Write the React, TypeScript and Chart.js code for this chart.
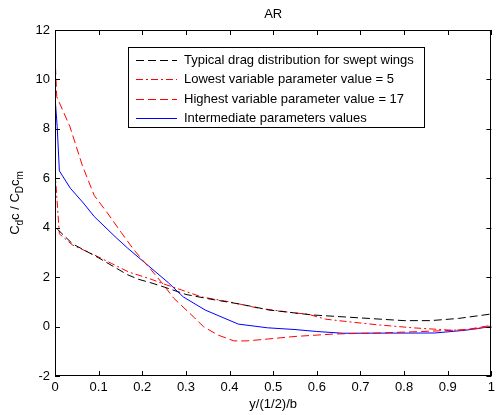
import React, { useEffect, useRef } from "react";
import { Chart, registerables } from "chart.js";

Chart.register(...registerables);

const titleText = "AR";
const xAxisTitle = "y/(1/2)/b";
const legendLabels = [
  "Typical drag distribution for swept wings",
  "Lowest variable parameter value = 5",
  "Highest variable parameter value = 17",
  "Intermediate parameters values",
];

const xTypical = [0.005, 0.04, 0.1, 0.166, 0.19, 0.22, 0.25, 0.3, 0.35, 0.41, 0.45, 0.49, 0.55, 0.59, 0.7, 0.8, 0.86, 0.925, 1.0];
const yTypical = [3.95, 3.35, 2.78, 2.1, 1.92, 1.77, 1.6, 1.3, 1.13, 0.95, 0.82, 0.67, 0.55, 0.47, 0.35, 0.24, 0.24, 0.33, 0.51];

const xLowest = [0, 0.01, 0.04, 0.09, 0.13, 0.17, 0.215, 0.25, 0.29, 0.336, 0.4, 0.465, 0.55, 0.58, 0.62, 0.675, 0.74, 0.82, 0.91, 0.95, 1.0];
const yLowest = [6.3, 3.75, 3.3, 2.9, 2.55, 2.2, 1.95, 1.72, 1.48, 1.2, 1.0, 0.75, 0.55, 0.5, 0.3, 0.19, 0.07, -0.05, -0.15, -0.12, 0.0];

const xHighest = [0, 0.004, 0.034, 0.063, 0.09, 0.12, 0.152, 0.181, 0.204, 0.22, 0.245, 0.272, 0.32, 0.34, 0.373, 0.41, 0.44, 0.49, 0.55, 0.64, 0.74, 0.84, 0.94, 1.0];
const yHighest = [11.0, 9.3, 8.1, 6.5, 5.3, 4.6, 3.8, 3.1, 2.62, 2.3, 1.77, 1.15, 0.35, 0.0, -0.34, -0.58, -0.58, -0.5, -0.4, -0.3, -0.26, -0.2, -0.13, 0.05];

const xInter = [0, 0.005, 0.01, 0.035, 0.065, 0.09, 0.14, 0.166, 0.22, 0.26, 0.294, 0.344, 0.42, 0.487, 0.55, 0.6, 0.66, 0.87, 0.94, 1.0];
const yInter = [9.3, 8.1, 6.3, 5.6, 5.0, 4.45, 3.6, 3.18, 2.37, 1.77, 1.2, 0.67, 0.1, -0.05, -0.12, -0.2, -0.27, -0.26, -0.15, 0.0];

const xMin = 0;
const xMax = 1;
const xStep = 0.1;
const yMin = -2;
const yMax = 12;
const yStep = 2;

const FONT = "'Liberation Sans', Arial, Helvetica, sans-serif";

function pts(xs: number[], ys: number[]) {
  return xs.map((x, i) => ({ x, y: ys[i] }));
}

const decorPlugin = {
  id: "decor",
  afterDatasetsDraw(chart: any) {
    const ctx = chart.ctx as CanvasRenderingContext2D;
    const { left, right, top, bottom } = chart.chartArea;
    const xs = chart.scales.x;
    const ys = chart.scales.y;
    ctx.save();
    // box
    ctx.strokeStyle = "#000";
    ctx.lineWidth = 1;
    ctx.setLineDash([]);
    ctx.strokeRect(Math.round(left) + 0.5, Math.round(top) + 0.5, Math.round(right - left) - 1, Math.round(bottom - top) - 1);
    const tl = 5;
    ctx.beginPath();
    xs.ticks.forEach((t: any) => {
      const p = Math.round(xs.getPixelForValue(t.value)) + 0.5;
      ctx.moveTo(p, bottom);
      ctx.lineTo(p, bottom - tl);
      ctx.moveTo(p, top);
      ctx.lineTo(p, top + tl);
    });
    ys.ticks.forEach((t: any) => {
      const p = Math.round(ys.getPixelForValue(t.value)) + 0.5;
      ctx.moveTo(left, p);
      ctx.lineTo(left + tl, p);
      ctx.moveTo(right, p);
      ctx.lineTo(right - tl, p);
    });
    ctx.stroke();

    // legend
    const lx = left + 73;
    const ly = top + 17;
    const lw = 296;
    const lh = 80;
    ctx.fillStyle = "#fff";
    ctx.fillRect(lx, ly, lw, lh);
    ctx.strokeStyle = "#000";
    ctx.strokeRect(Math.round(lx) + 0.5, Math.round(ly) + 0.5, lw, lh);
    ctx.font = `13px ${FONT}`;
    ctx.textBaseline = "middle";
    ctx.textAlign = "left";
    chart.data.datasets.forEach((ds: any, i: number) => {
      const yy = Math.round(ly + 13 + i * 19.3) + 0.5;
      ctx.strokeStyle = ds.borderColor;
      ctx.lineWidth = 1;
      ctx.setLineDash(ds.borderDash || []);
      ctx.beginPath();
      ctx.moveTo(lx + 8, yy);
      ctx.lineTo(lx + 49, yy);
      ctx.stroke();
      ctx.setLineDash([]);
      ctx.fillStyle = "#000";
      ctx.fillText(ds.label, lx + 56, yy);
    });

    // title
    ctx.fillStyle = "#000";
    ctx.textAlign = "center";
    ctx.textBaseline = "middle";
    ctx.font = `13px ${FONT}`;
    ctx.fillText(titleText, (left + right) / 2, 14);
    // x axis title
    ctx.fillText(xAxisTitle, (left + right) / 2, 404);

    // y axis title with subscripts (rotated)
    const parts: [string, boolean][] = [
      ["C", false], ["d", true], ["c / C", false], ["D", true], ["c", false], ["m", true],
    ];
    const big = `13px ${FONT}`;
    const small = `10px ${FONT}`;
    let total = 0;
    parts.forEach(([s, sub]) => {
      ctx.font = sub ? small : big;
      total += ctx.measureText(s).width;
    });
    ctx.translate(19, (top + bottom) / 2);
    ctx.rotate(-Math.PI / 2);
    ctx.textAlign = "left";
    ctx.textBaseline = "alphabetic";
    let cx = -total / 2;
    parts.forEach(([s, sub]) => {
      ctx.font = sub ? small : big;
      ctx.fillText(s, cx, sub ? 4 : 0);
      cx += ctx.measureText(s).width;
    });
    ctx.restore();
  },
};

export default function App() {
  const ref = useRef<HTMLCanvasElement | null>(null);
  useEffect(() => {
    if (!ref.current) return;
    const chart = new Chart(ref.current, {
      type: "scatter",
      data: {
        datasets: [
          {
            label: legendLabels[0],
            data: pts(xTypical, yTypical),
            borderColor: "#000000",
            borderDash: [8, 4],
            borderWidth: 1,
            showLine: true,
            pointRadius: 0,
            fill: false,
          },
          {
            label: legendLabels[1],
            data: pts(xLowest, yLowest),
            borderColor: "#ff0000",
            borderDash: [7, 3, 2, 3],
            borderWidth: 1,
            showLine: true,
            pointRadius: 0,
            fill: false,
          },
          {
            label: legendLabels[2],
            data: pts(xHighest, yHighest),
            borderColor: "#ff0000",
            borderDash: [8, 4],
            borderWidth: 1,
            showLine: true,
            pointRadius: 0,
            fill: false,
          },
          {
            label: legendLabels[3],
            data: pts(xInter, yInter),
            borderColor: "#0000ff",
            borderWidth: 1,
            showLine: true,
            pointRadius: 0,
            fill: false,
          },
        ],
      },
      options: {
        animation: false,
        responsive: false,
        devicePixelRatio: 1,
        layout: { padding: { left: 0, top: 30, right: 2, bottom: 0 } },
        plugins: { legend: { display: false }, title: { display: false }, tooltip: { enabled: false } },
        scales: {
          x: {
            type: "linear",
            min: xMin,
            max: xMax,
            grid: { display: false, drawTicks: false },
            border: { display: false },
            ticks: {
              stepSize: xStep,
              padding: 4,
              color: "#000",
              font: { size: 13, family: FONT },
              maxRotation: 0,
              autoSkip: false,
              callback: (v: any) => String(Number(Number(v).toFixed(1))),
            },
            afterFit: (s: any) => { s.height = 39; },
          },
          y: {
            type: "linear",
            min: yMin,
            max: yMax,
            grid: { display: false, drawTicks: false },
            border: { display: false },
            ticks: {
              stepSize: yStep,
              padding: 5,
              color: "#000",
              font: { size: 13, family: FONT },
              autoSkip: false,
            },
            afterFit: (s: any) => { s.width = 55; },
          },
        },
      },
      plugins: [decorPlugin],
    });
    return () => chart.destroy();
  }, []);
  return (
    <div style={{ position: "fixed", left: 0, top: 0, width: 499, height: 415, background: "#fff" }}>
      <canvas ref={ref} width={499} height={415} style={{ display: "block" }} />
    </div>
  );
}
